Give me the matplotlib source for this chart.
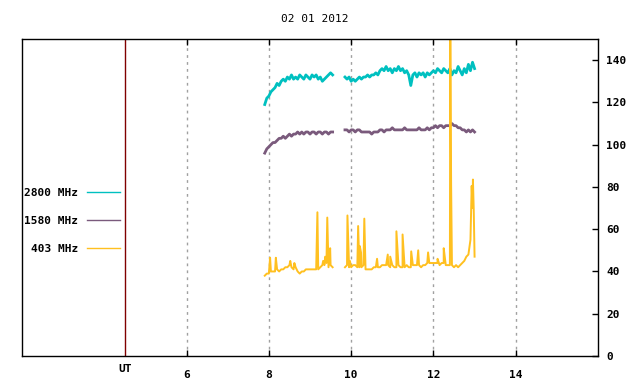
#!/usr/bin/env python3
import numpy as np
import matplotlib
matplotlib.use('Agg')
import matplotlib.pyplot as plt

plt.rcParams['font.family'] = 'DejaVu Sans Mono'
plt.rcParams['font.weight'] = 'bold'
plt.rcParams['font.size'] = 8

titulo = '02 01 2012'

# sampling every 0.05 h (3 min); two recording windows with a gap
t_seg1 = np.round(np.arange(7.90, 9.551, 0.05), 2)
t_seg2 = np.round(np.arange(9.85, 13.001, 0.05), 2)

f2800_seg1 = [119, 122, 123, 125, 126, 127, 129, 128, 130, 131,
              130, 132, 131, 133, 131, 132, 131, 133, 132, 131,
              133, 132, 131, 133, 132, 133, 131, 132, 130, 131,
              132, 133, 134, 133]
f2800_seg2 = [132, 131, 132, 130, 131, 130, 131, 132, 131, 132,
              132, 133, 132, 133, 133, 134, 133,
              135, 136, 135, 137, 135, 136, 134, 136, 135, 137, 135, 136, 134, 135,
              133, 128, 133, 134, 132, 134, 133, 134, 132, 134, 133, 134,
              135, 134, 136, 135, 134, 136, 135,
              134, 136, 133, 135, 134, 137, 135, 133, 136, 134, 138, 135, 139, 136]

f1580_seg1 = [96, 98, 99, 100, 101, 101, 102, 103, 103,
              104, 103, 104, 105, 104, 105, 105, 106, 105, 106,
              105, 106, 106, 105, 106, 106, 105, 106, 106, 105,
              106, 106, 105, 106, 106]
f1580_seg2 = [107, 107, 106, 107, 107, 106, 107, 107, 106, 106,
              106, 106, 106, 105, 106, 106, 106,
              107, 107, 106, 107, 107, 107, 108, 107, 107, 107, 107, 107, 108, 107,
              107, 107, 107, 107, 107, 108, 107, 107, 107, 108, 107, 108,
              108, 109, 108, 109, 109, 108, 109,
              109, 109, 110, 109, 109, 108, 108, 107, 107, 106, 107, 106, 107, 106]

f403_seg1 = [38, 39, 39, 40, 40, 40, 41, 40, 41, 41,
             42, 42, 43, 42, 41, 42, 40, 39, 40, 40,
             41, 41, 41, 41, 41, 41, 41, 42, 43, 43,
             44, 42, 43, 42]
f403_seg2 = [42, 43, 42, 42, 43, 43, 42, 42, 42, 43,
             41, 41, 41, 41, 42, 42, 42,
             42, 43, 43, 43, 43, 42, 43, 42, 42, 43, 42, 42, 42, 43,
             42, 42, 43, 43, 43, 43, 42, 43, 43, 44, 44, 44,
             44, 44, 44, 43, 44, 44, 43,
             43, 43, 43, 42, 43, 42, 43, 44, 45, 47, 48, 55, 70, 47]

# short bursts on 403 MHz
burst_t1 = [8.03, 8.17, 8.52, 8.62, 9.18, 9.32, 9.37, 9.42, 9.49]
burst_v1 = [46.5, 46.5, 45, 44, 68, 45, 47, 65.5, 51]
burst_t2 = [9.91, 9.97, 10.17, 10.21, 10.24, 10.32, 10.63, 10.89, 10.95,
            11.10, 11.25, 11.46, 11.63, 11.87, 12.10, 12.25, 12.41, 12.43,
            12.93, 12.96, 12.98]
burst_v2 = [66.5, 45, 61.5, 52, 49, 65, 46, 48, 47,
            59, 57.5, 49.5, 50, 49, 46, 51, 152, 81,
            80.5, 83.5, 69]

cores = {'2800 MHz': '#00c0c0', '1580 MHz': '#7a5a7c', '403 MHz': '#ffc020'}
eixo_x = [6, 8, 10, 12, 14]
eixo_y = [0, 20, 40, 60, 80, 100, 120, 140]


def junta(t1, v1, t2, v2):
    return np.concatenate([t1, [np.nan], t2]), np.concatenate([v1, [np.nan], v2])


def com_rajadas(t, v, bt, bv):
    tt = np.concatenate([t, bt])
    vv = np.concatenate([v, bv])
    ordem = np.argsort(tt, kind='stable')
    return tt[ordem], vv[ordem]


fig = plt.figure(figsize=(6.4, 3.84), dpi=100)
ax = fig.add_axes([22 / 640, 28 / 384, 576 / 640, 317 / 384])

t, v = junta(t_seg1, f2800_seg1, t_seg2, f2800_seg2)
ax.plot(t, v, color=cores['2800 MHz'], lw=2.0, label='2800 MHz')
t, v = junta(t_seg1, f1580_seg1, t_seg2, f1580_seg2)
ax.plot(t, v, color=cores['1580 MHz'], lw=2.0, label='1580 MHz')
ta, va = com_rajadas(t_seg1, f403_seg1, burst_t1, burst_v1)
tb, vb = com_rajadas(t_seg2, f403_seg2, burst_t2, burst_v2)
t, v = junta(ta, va, tb, vb)
ax.plot(t, v, color=cores['403 MHz'], lw=1.4, label='403 MHz')

ax.axvline(4.5, color='#800000', lw=1)

ax.set_xlim(2, 16)
ax.set_ylim(0, 150)
ax.set_xticks(eixo_x)
ax.set_yticks(eixo_y)
ax.yaxis.tick_right()
ax.tick_params(axis='x', direction='in', top=True, length=4, pad=10, width=1)
ax.tick_params(axis='y', direction='in', length=4, pad=6, width=1)
ax.grid(axis='x', color='#a0a0a0', linestyle=(0, (2, 3)), lw=1)
for s in ax.spines.values():
    s.set_linewidth(1)

ax.text(4.5, -0.04, 'UT', transform=ax.get_xaxis_transform(),
        ha='center', va='center')
fig.text(315 / 640, 1 - 19 / 384, titulo, ha='center', va='center',
         fontweight='normal')

leg = ax.legend(loc='upper left', bbox_to_anchor=(24 / 640, 1 - 188 / 384),
                bbox_transform=fig.transFigure, frameon=False, markerfirst=False,
                borderpad=0, borderaxespad=0, handlelength=2.9, handletextpad=0.85,
                labelspacing=1.6)
for h in leg.get_lines():
    h.set_linewidth(1)

fig.savefig('out.png', dpi=100)
